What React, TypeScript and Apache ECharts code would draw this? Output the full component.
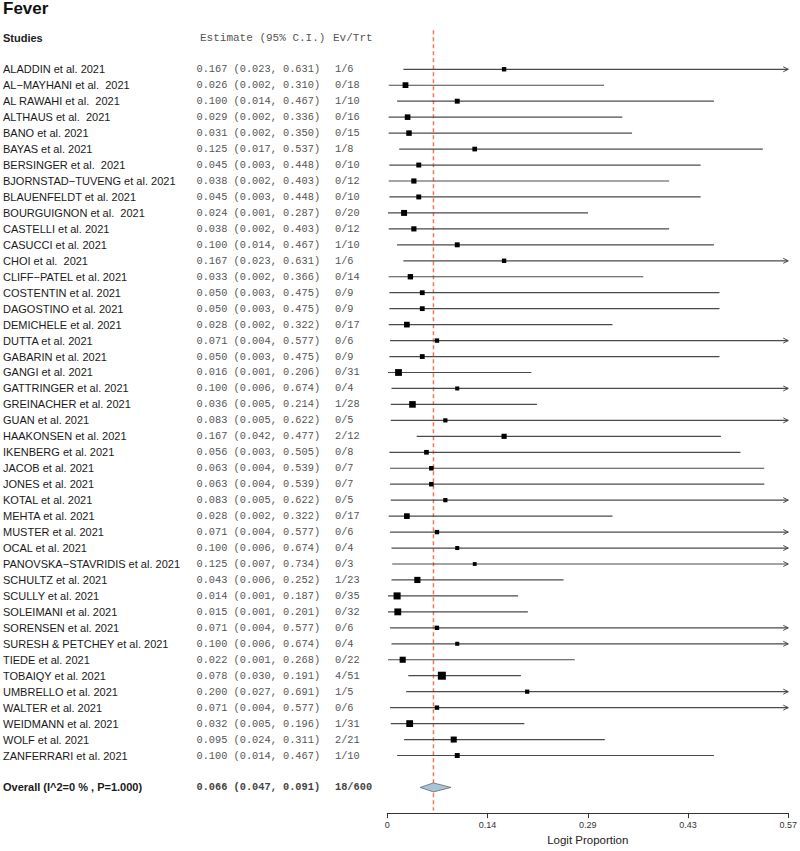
import React, { useEffect, useRef } from "react";
import * as echarts from "echarts";

const studies = [
  "ALADDIN et al. 2021", "AL−MAYHANI et al.  2021", "AL RAWAHI et al.  2021", "ALTHAUS et al.  2021",
  "BANO et al. 2021", "BAYAS et al. 2021", "BERSINGER et al.  2021", "BJORNSTAD−TUVENG et al. 2021",
  "BLAUENFELDT et al. 2021", "BOURGUIGNON et al.  2021", "CASTELLI et al. 2021", "CASUCCI et al. 2021",
  "CHOI et al.  2021", "CLIFF−PATEL et al. 2021", "COSTENTIN et al. 2021", "DAGOSTINO et al. 2021",
  "DEMICHELE et al. 2021", "DUTTA et al. 2021", "GABARIN et al. 2021", "GANGI et al. 2021",
  "GATTRINGER et al. 2021", "GREINACHER et al. 2021", "GUAN et al. 2021", "HAAKONSEN et al. 2021",
  "IKENBERG et al. 2021", "JACOB et al. 2021", "JONES et al. 2021", "KOTAL et al. 2021",
  "MEHTA et al. 2021", "MUSTER et al. 2021", "OCAL et al. 2021", "PANOVSKA−STAVRIDIS et al. 2021",
  "SCHULTZ et al. 2021", "SCULLY et al. 2021", "SOLEIMANI et al. 2021", "SORENSEN et al. 2021",
  "SURESH & PETCHEY et al. 2021", "TIEDE et al. 2021", "TOBAIQY et al. 2021", "UMBRELLO et al. 2021",
  "WALTER et al. 2021", "WEIDMANN et al. 2021", "WOLF et al. 2021", "ZANFERRARI et al. 2021",
];
const estimates = [0.167, 0.026, 0.100, 0.029, 0.031, 0.125, 0.045, 0.038, 0.045, 0.024, 0.038, 0.100, 0.167, 0.033, 0.050, 0.050, 0.028, 0.071, 0.050, 0.016, 0.100, 0.036, 0.083, 0.167, 0.056, 0.063, 0.063, 0.083, 0.028, 0.071, 0.100, 0.125, 0.043, 0.014, 0.015, 0.071, 0.100, 0.022, 0.078, 0.200, 0.071, 0.032, 0.095, 0.100];
const lower = [0.023, 0.002, 0.014, 0.002, 0.002, 0.017, 0.003, 0.002, 0.003, 0.001, 0.002, 0.014, 0.023, 0.002, 0.003, 0.003, 0.002, 0.004, 0.003, 0.001, 0.006, 0.005, 0.005, 0.042, 0.003, 0.004, 0.004, 0.005, 0.002, 0.004, 0.006, 0.007, 0.006, 0.001, 0.001, 0.004, 0.006, 0.001, 0.030, 0.027, 0.004, 0.005, 0.024, 0.014];
const upper = [0.631, 0.310, 0.467, 0.336, 0.350, 0.537, 0.448, 0.403, 0.448, 0.287, 0.403, 0.467, 0.631, 0.366, 0.475, 0.475, 0.322, 0.577, 0.475, 0.206, 0.674, 0.214, 0.622, 0.477, 0.505, 0.539, 0.539, 0.622, 0.322, 0.577, 0.674, 0.734, 0.252, 0.187, 0.201, 0.577, 0.674, 0.268, 0.191, 0.691, 0.577, 0.196, 0.311, 0.467];
const events = [1, 0, 1, 0, 0, 1, 0, 0, 0, 0, 0, 1, 1, 0, 0, 0, 0, 0, 0, 0, 0, 1, 0, 2, 0, 0, 0, 0, 0, 0, 0, 0, 1, 0, 0, 0, 0, 0, 4, 1, 0, 1, 2, 1];
const totals = [6, 18, 10, 16, 15, 8, 10, 12, 10, 20, 12, 10, 6, 14, 9, 9, 17, 6, 9, 31, 4, 28, 5, 12, 8, 7, 7, 5, 17, 6, 4, 3, 23, 35, 32, 6, 4, 22, 51, 5, 6, 31, 21, 10];

const overallLabel = "Overall (I^2=0 % , P=1.000)";
const overallEstimate = 0.066;
const overallLower = 0.047;
const overallUpper = 0.091;
const overallEvents = 18;
const overallTotal = 600;

const xTickStep = 0.14333;

const NAME_FONT = '11px "Liberation Sans", Arial, sans-serif';
const NAME_BOLD = 'bold 11px "Liberation Sans", Arial, sans-serif';
const MONO_FONT = '10.3px "Liberation Mono", "DejaVu Sans Mono", monospace';
const MONO_BOLD = 'bold 10.3px "Liberation Mono", "DejaVu Sans Mono", monospace';

function txt(text: string, x: number, y: number, font: string, fill: string) {
  return {
    type: "text",
    style: { text, x, y, font, fill, align: "left", verticalAlign: "middle", textAlign: "left", textVerticalAlign: "middle" },
    silent: true,
  };
}

const fmtCI = (e: number, l: number, h: number) => `${e.toFixed(3)} (${l.toFixed(3)}, ${h.toFixed(3)})`;

export default function App() {
  const ref = useRef<HTMLDivElement>(null);
  useEffect(() => {
    if (!ref.current) return;
    const chart = echarts.init(ref.current, null, { renderer: "svg" });
    const nRows = studies.length;
    const overallRow = nRows + 1;
    const studyData = studies.map((_, i) => [i, estimates[i], lower[i], upper[i], events[i], totals[i]]);

    const option: any = {
      animation: false,
      backgroundColor: "#ffffff",
      grid: { left: 387.3, right: 10, top: 61.3, bottom: 50.7 },
      xAxis: {
        type: "value",
        min: 0,
        max: xTickStep * 4,
        interval: xTickStep,
        offset: 17.7,
        axisLine: { show: true, onZero: false, lineStyle: { color: "#333", width: 1 } },
        axisTick: { show: true, length: 5, lineStyle: { color: "#333" } },
        splitLine: { show: false },
        axisLabel: {
          fontSize: 9,
          color: "#333",
          margin: 7,
          fontFamily: '"Liberation Sans", Arial, sans-serif',
          formatter: (v: number) => (v === 0 ? "0" : v.toFixed(2)),
        },
        name: "Logit Proportion",
        nameLocation: "middle",
        nameGap: 19,
        nameTextStyle: { fontSize: 11.5, color: "#222", fontFamily: '"Liberation Sans", Arial, sans-serif' },
      },
      yAxis: { type: "value", min: -0.5, max: overallRow + 0.5, inverse: true, show: false },
      graphic: [
        { type: "text", left: 3, top: 0, style: { text: "Fever", font: 'bold 17px "Liberation Sans", Arial, sans-serif', fill: "#111" } },
        txt("Studies", 3, 38, NAME_BOLD, "#222"),
        txt("Estimate (95% C.I.)", 200, 38, '11px "Liberation Mono", "DejaVu Sans Mono", monospace', "#555"),
        txt("Ev/Trt", 333, 38, '11px "Liberation Mono", "DejaVu Sans Mono", monospace', "#555"),
      ],
      series: [
        {
          type: "custom",
          clip: false,
          data: studyData,
          encode: { x: 1, y: 0 },
          renderItem: (params: any, api: any) => {
            const i = api.value(0);
            const e = api.value(1);
            const l = api.value(2);
            const h = api.value(3);
            const ev = api.value(4);
            const n = api.value(5);
            const cs = params.coordSys;
            const xMax = cs.x + cs.width;
            const p = api.coord([e, i]);
            const pl = api.coord([l, i]);
            const ph = api.coord([h, i]);
            const y = p[1];
            const right = Math.min(ph[0], xMax);
            const s = 2.5 + 0.77 * Math.sqrt(n);
            const children: any[] = [
              { type: "line", shape: { x1: pl[0], y1: y, x2: right, y2: y }, style: { stroke: "#4a4a4a", lineWidth: 1.2 } },
              { type: "rect", shape: { x: p[0] - s / 2, y: y - s / 2, width: s, height: s }, style: { fill: "#000" } },
              txt(studies[i], 3, y, NAME_FONT, "#1a1a1a"),
              txt(fmtCI(e, l, h), 196.5, y, MONO_FONT, "#555"),
              txt(`${ev}/${n}`, 335, y, MONO_FONT, "#555"),
            ];
            if (ph[0] > xMax + 0.5) {
              children.push({
                type: "polyline",
                shape: { points: [[xMax - 5, y - 2.5], [xMax, y], [xMax - 5, y + 2.5]] },
                style: { stroke: "#4a4a4a", lineWidth: 1, fill: "none" },
              });
            }
            return { type: "group", children };
          },
          z: 3,
        },
        {
          type: "custom",
          clip: false,
          data: [[overallRow, overallEstimate, overallLower, overallUpper, overallEvents, overallTotal]],
          encode: { x: 1, y: 0 },
          renderItem: (params: any, api: any) => {
            const r = api.value(0);
            const e = api.value(1);
            const l = api.value(2);
            const h = api.value(3);
            const cs = params.coordSys;
            const p = api.coord([e, r]);
            const pl = api.coord([l, r]);
            const ph = api.coord([h, r]);
            const y = p[1];
            const hh = 4.5;
            return {
              type: "group",
              children: [
                {
                  type: "line",
                  shape: { x1: p[0], y1: cs.y - 31, x2: p[0], y2: cs.y + cs.height + 15 },
                  style: { stroke: "#f5764f", lineWidth: 1.5, lineDash: [4, 3] },
                  z2: 1,
                },
                {
                  type: "polygon",
                  shape: { points: [[pl[0], y], [p[0], y - hh], [ph[0], y], [p[0], y + hh]] },
                  style: { fill: "#a8c4d8", stroke: "#666", lineWidth: 0.8 },
                  z2: 5,
                },
                txt(overallLabel, 3, y, NAME_BOLD, "#1a1a1a"),
                txt(fmtCI(e, l, h), 196.5, y, MONO_BOLD, "#444"),
                txt(`${api.value(4)}/${api.value(5)}`, 335, y, MONO_BOLD, "#444"),
              ],
            };
          },
          z: 2,
        },
      ],
    };
    chart.setOption(option);
    return () => chart.dispose();
  }, []);
  return <div ref={ref} style={{ position: "fixed", left: 0, top: 0, width: 800, height: 851 }} />;
}
